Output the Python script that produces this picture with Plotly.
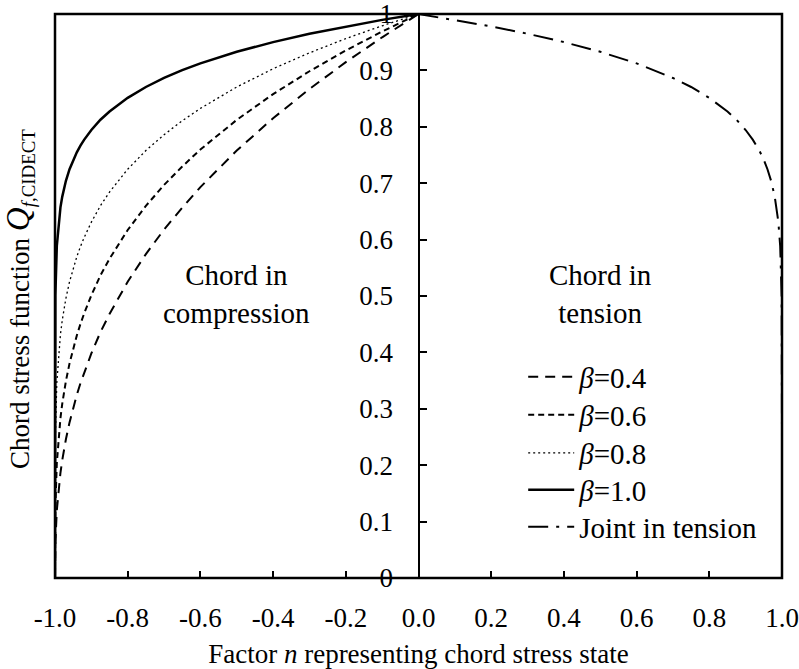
import plotly.graph_objects as go

# Compression side: factor n (chord stress state)
n_comp = [-1.0, -0.999999, -0.9999, -0.999, -0.995, -0.99, -0.985, -0.98, -0.975, -0.97, -0.96,
          -0.95, -0.94, -0.93, -0.92, -0.9, -0.875, -0.85, -0.8, -0.75, -0.7, -0.65, -0.6,
          -0.5, -0.4, -0.3, -0.2, -0.1, 0.0]
q_b04 = [0.0, 0.0040, 0.0251, 0.0631, 0.1201, 0.1585, 0.1866, 0.2091, 0.2286, 0.2460, 0.2759,
         0.3017, 0.3246, 0.3452, 0.3641, 0.3981, 0.4359, 0.4682, 0.5253, 0.5743, 0.6178, 0.6566,
         0.6931, 0.7579, 0.8152, 0.8670, 0.9146, 0.9587, 1.0]
q_b06 = [0.0, 0.0158, 0.0631, 0.1259, 0.2040, 0.2512, 0.2836, 0.3092, 0.3304, 0.3492, 0.3805,
         0.4071, 0.4301, 0.4503, 0.4687, 0.5012, 0.5365, 0.5660, 0.6170, 0.6598, 0.6968, 0.7296,
         0.7597, 0.8123, 0.8579, 0.8985, 0.9353, 0.9689, 1.0]
q_b08 = [0.0, 0.0631, 0.1585, 0.2512, 0.3466, 0.3981, 0.4319, 0.4573, 0.4781, 0.4959, 0.5253,
         0.5493, 0.5697, 0.5875, 0.6034, 0.6310, 0.6601, 0.6843, 0.7248, 0.7579, 0.7860, 0.8107,
         0.8326, 0.8706, 0.9029, 0.9311, 0.9564, 0.9791, 1.0]
q_b10 = [0.0, 0.2512, 0.3981, 0.5012, 0.5887, 0.6310, 0.6572, 0.6762, 0.6915, 0.7042, 0.7248,
         0.7411, 0.7548, 0.7665, 0.7768, 0.7943, 0.8125, 0.8272, 0.8513, 0.8706, 0.8866, 0.9004,
         0.9125, 0.9330, 0.9502, 0.9650, 0.9779, 0.9896, 1.0]

# Tension side
n_tens = [0.0, 0.1, 0.2, 0.3, 0.4, 0.5, 0.6, 0.7, 0.75, 0.8, 0.85, 0.875, 0.9, 0.92, 0.93, 0.94,
          0.95, 0.96, 0.97, 0.98, 0.99, 0.995, 0.999, 0.9999, 0.999999, 1.0]
q_tens = [1.0, 0.9896, 0.9779, 0.9650, 0.9502, 0.9330, 0.9125, 0.8866, 0.8706, 0.8513, 0.8272,
          0.8125, 0.7943, 0.7768, 0.7665, 0.7548, 0.7411, 0.7248, 0.7042, 0.6762, 0.6310, 0.5887,
          0.5012, 0.3981, 0.2512, 0.0]

x_tickvals = [-1.0, -0.8, -0.6, -0.4, -0.2, 0.0, 0.2, 0.4, 0.6, 0.8, 1.0]
x_ticktext = ["-1.0", "-0.8", "-0.6", "-0.4", "-0.2", "0.0", "0.2", "0.4", "0.6", "0.8", "1.0"]
y_tickvals = [0, 0.1, 0.2, 0.3, 0.4, 0.5, 0.6, 0.7, 0.8, 0.9, 1.0]
y_ticktext = ["0", "0.1", "0.2", "0.3", "0.4", "0.5", "0.6", "0.7", "0.8", "0.9", "1"]

FONT = "Liberation Serif, Times New Roman, Times, serif"
FS_TICK = 27
FS_TEXT = 29

series = [
    ("<i>β</i>=0.4", n_comp, q_b04, dict(color="black", width=2, dash="10px,7px")),
    ("<i>β</i>=0.6", n_comp, q_b06, dict(color="black", width=2, dash="6px,4px")),
    ("<i>β</i>=0.8", n_comp, q_b08, dict(color="black", width=1.3, dash="2px,3px")),
    ("<i>β</i>=1.0", n_comp, q_b10, dict(color="black", width=2.5)),
    ("Joint in tension", n_tens, q_tens, dict(color="black", width=2, dash="20px,8px,3px,8px")),
]

# one legend box per entry so the row spacing can follow the reference
legend_rows_y = [0.3564, 0.2890, 0.2216, 0.1560, 0.0904]

fig = go.Figure()
layout_legends = {}
for i, (name, xs, ys, line) in enumerate(series):
    lname = "legend" if i == 0 else f"legend{i + 1}"
    fig.add_trace(go.Scatter(x=xs, y=ys, mode="lines", name=name, line=line, legend=lname))
    layout_legends[lname] = dict(x=0.644, y=legend_rows_y[i], xanchor="left", yanchor="middle",
                                 bgcolor="rgba(0,0,0,0)", font=dict(family=FONT, size=FS_TEXT),
                                 itemwidth=46)

fig.update_layout(
    width=799, height=669,
    margin=dict(l=55, r=17, t=14, b=91, autoexpand=False),
    paper_bgcolor="white", plot_bgcolor="white",
    font=dict(family=FONT, size=FS_TICK, color="black"),
    showlegend=True,
    xaxis=dict(range=[-1, 1], tickvals=x_tickvals, ticktext=x_ticktext,
               ticks="inside", ticklen=7, tickwidth=2, tickcolor="black",
               showgrid=False, zeroline=False, showline=False, automargin=False,
               tickfont=dict(family=FONT, size=FS_TICK),
               ticklabelstandoff=21,
               title=dict(text="Factor <i>n</i> representing chord stress state",
                          font=dict(family=FONT, size=FS_TICK), standoff=13)),
    yaxis=dict(range=[0, 1], tickvals=y_tickvals, ticktext=y_ticktext,
               anchor="free", position=0.5, side="left", automargin=False,
               ticks="inside", ticklen=7, tickwidth=2, tickcolor="black",
               showline=True, linewidth=2, linecolor="black",
               tickfont=dict(family=FONT, size=FS_TICK), ticklabeloverflow="allow",
               showgrid=False, zeroline=False, ticklabelstandoff=19),
    shapes=[dict(type="rect", xref="paper", yref="paper", x0=0, x1=1, y0=0, y1=1,
                 line=dict(color="black", width=2.5), fillcolor="rgba(0,0,0,0)", layer="above")],
    annotations=[
        dict(text="Chord stress function <i><span style='font-size:33px'>Q</span></i><sub><i>f</i>,CIDECT</sub>",
             xref="paper", yref="paper", x=-0.048, y=0.495, textangle=-90,
             xanchor="center", yanchor="middle", showarrow=False,
             font=dict(family=FONT, size=FS_TICK)),
        dict(text="Chord in<br>compression", xref="paper", yref="paper", x=0.25, y=0.504,
             xanchor="center", yanchor="middle", showarrow=False,
             font=dict(family=FONT, size=FS_TEXT)),
        dict(text="Chord in<br>tension", xref="paper", yref="paper", x=0.75, y=0.504,
             xanchor="center", yanchor="middle", showarrow=False,
             font=dict(family=FONT, size=FS_TEXT)),
    ],
    **layout_legends,
)

fig.write_html("out.html")
